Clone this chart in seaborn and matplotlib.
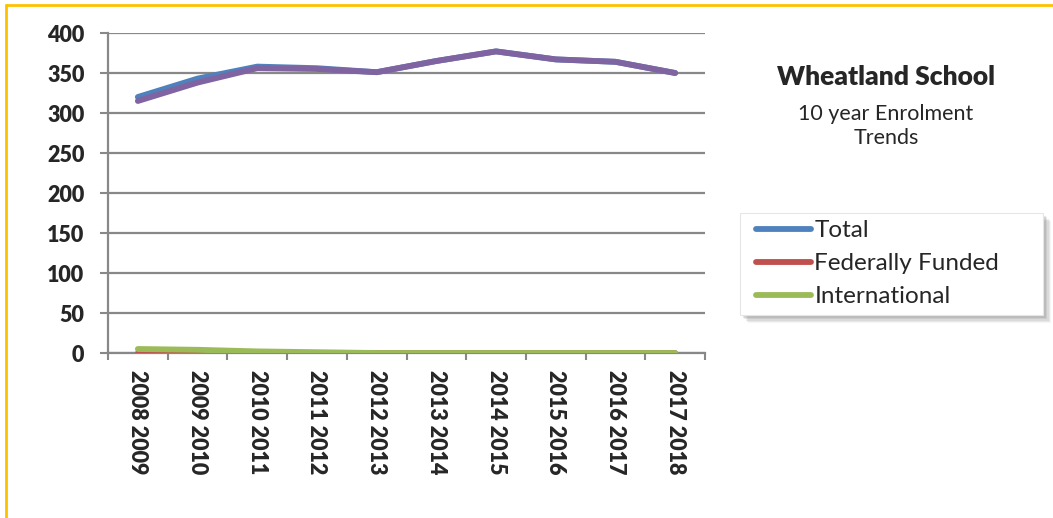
import matplotlib
matplotlib.use("Agg")
import matplotlib.pyplot as plt
from matplotlib.lines import Line2D
from matplotlib.patches import Rectangle, Shadow
import seaborn as sns
import pandas as pd
import numpy as np

# School years
years = ["2008 2009", "2009 2010", "2010 2011", "2011 2012", "2012 2013",
         "2013 2014", "2014 2015", "2015 2016", "2016 2017", "2017 2018"]

# Enrolment counts per year
total = [320, 343, 358, 356, 351, 365, 377, 367, 364, 350]
federally_funded = [0, 0, 0, 0, 0, 0, 0, 0, 0, 0]
international = [5, 4, 2, 1, 0, 0, 0, 0, 0, 0]
domestic = [315, 338, 356, 355, 351, 365, 377, 367, 364, 350]

y_ticks = [0, 50, 100, 150, 200, 250, 300, 350, 400]

series_names = ["Total", "Federally Funded", "International", "Domestic"]
series_values = [total, federally_funded, international, domestic]
colors = {"Total": "#4F81BD", "Federally Funded": "#C0504D",
          "International": "#9BBB59", "Domestic": "#8064A2"}

rows = []
for name, vals in zip(series_names, series_values):
    for i, (yr, v) in enumerate(zip(years, vals)):
        rows.append({"pos": i, "year": yr, "series": name, "value": v})
df = pd.DataFrame(rows)

sns.set_theme(style="white")
plt.rcParams["font.family"] = ["Lato", "DejaVu Sans"]

W, H = 1053, 518
fig = plt.figure(figsize=(W / 100, H / 100), dpi=100)
ax = fig.add_axes([108 / W, 1 - 353 / H, (705 - 108) / W, (353 - 33) / H])

for name in series_names:
    sub = df[df["series"] == name]
    sns.lineplot(data=sub, x="pos", y="value", color=colors[name], lw=4.2,
                 ax=ax, legend=False, solid_capstyle="round",
                 solid_joinstyle="round", zorder=3)

ax.set_xlim(-0.5, len(years) - 0.5)
ax.set_ylim(0, 400)
ax.set_yticks(y_ticks)
ax.set_yticklabels([str(t) for t in y_ticks], fontsize=15.5, fontweight="heavy")
ax.set_xticks(range(len(years)))
ax.set_xticklabels(years, rotation=270, fontsize=15.5, fontweight="heavy",
                   va="top", ha="center")
ax.set_xticks(np.arange(-0.5, len(years), 1.0), minor=True)
ax.tick_params(axis="x", which="major", length=0, pad=12)
ax.tick_params(axis="x", which="minor", length=5, width=1.5, color="#888888",
               direction="out", bottom=True)
ax.tick_params(axis="y", which="major", length=6, width=1.5, color="#888888",
               direction="out", left=True, pad=11)
ax.set_xlabel("")
ax.set_ylabel("")

ax.grid(axis="y", color="#888888", lw=1.6, zorder=0)
ax.grid(axis="x", visible=False)
for side in ["top", "right"]:
    ax.spines[side].set_visible(False)
for side in ["left", "bottom"]:
    ax.spines[side].set_color("#888888")
    ax.spines[side].set_linewidth(1.6)

# Title block
fig.text(886 / W, 1 - 77 / H, "Wheatland School", ha="center", va="center",
         fontsize=19, fontweight="heavy")
fig.text(886 / W, 1 - 126 / H, "10 year Enrolment\nTrends", ha="center",
         va="center", fontsize=15.5, linespacing=1.3)

# Legend panel with a soft drop shadow
box = Rectangle((740 / W, 1 - 315 / H), (1043 - 740) / W, (315 - 213) / H,
                transform=fig.transFigure, facecolor="white",
                edgecolor="#e6e6e6", lw=0.8, zorder=1)
for k, a in [(6, 0.07), (5, 0.10), (4, 0.13), (3, 0.16), (2, 0.2)]:
    sh = Shadow(box, k / W, -k / H, alpha=a)
    sh.set_facecolor("#7f7f7f")
    sh.set_edgecolor("none")
    fig.add_artist(sh)
fig.add_artist(box)

handles = [Line2D([0], [0], color=colors[n], lw=4.2, solid_capstyle="round")
           for n in series_names[:3]]
leg = fig.legend(handles, series_names[:3], loc="upper left",
                 bbox_to_anchor=(756 / W, 1 - 220 / H),
                 bbox_transform=fig.transFigure, fontsize=17.5, frameon=False,
                 handlelength=2.25, handletextpad=0.15, labelspacing=0.5,
                 borderpad=0.0, borderaxespad=0)
leg.set_zorder(2)

# Gold border around the chart area
fig.add_artist(Line2D([6 / W, 1], [1 - 5 / H, 1 - 5 / H],
                      transform=fig.transFigure, color="#FFC000", lw=2))
fig.add_artist(Line2D([6 / W, 6 / W], [0, 1 - 5 / H],
                      transform=fig.transFigure, color="#FFC000", lw=2))

fig.savefig("out.png", dpi=100, facecolor="white")
